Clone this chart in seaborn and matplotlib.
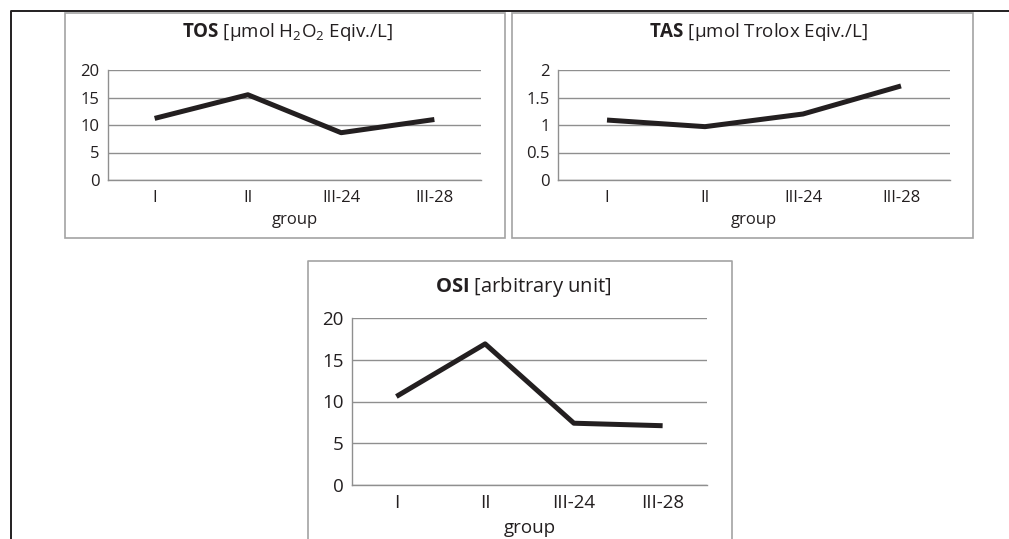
import numpy as np
import pandas as pd
import seaborn as sns
import matplotlib.pyplot as plt
from matplotlib.lines import Line2D
from matplotlib.patches import Rectangle
from matplotlib.ticker import FuncFormatter, FixedLocator

groups = ["I", "II", "III-24", "III-28"]
tos = [11.2, 15.5, 8.6, 11.0]
tas = [1.09, 0.97, 1.20, 1.71]
osi = [10.6, 16.9, 7.4, 7.1]

sns.set_style("white")
plt.rcParams['font.family'] = ['Open Sans', 'DejaVu Sans']
plt.rcParams['mathtext.fontset'] = 'custom'
plt.rcParams['mathtext.rm'] = 'Open Sans'
plt.rcParams['mathtext.bf'] = 'Open Sans:bold'

W, H = 1009, 539
ink = '#231f20'
grid = '#8f8f8f'
frame = '#a3a3a3'

fig = plt.figure(figsize=(W / 100, H / 100), dpi=100)
fig.patch.set_facecolor('white')


def box(x0, y0, x1, y1):
    # pixel coords, y down from top
    return [x0 / W, 1 - y1 / H, (x1 - x0) / W, (y1 - y0) / H]


def px(x, y):
    return x / W, 1 - y / H


# outer frame lines
xs, ys = zip(*[px(11, 539), px(11, 11), px(1009, 11)])
fig.add_artist(Line2D(xs, ys, color=ink, lw=1.4, transform=fig.transFigure))

# panel boxes
for (x0, y0, x1, y1) in [(65, 13, 505, 238), (512, 13, 973, 238)]:
    b = box(x0, y0, x1, y1)
    fig.add_artist(Rectangle((b[0], b[1]), b[2], b[3], fill=False, ec=frame,
                             lw=1.2, transform=fig.transFigure))
xs, ys = zip(*[px(308, 545), px(308, 261), px(732, 261), px(732, 545)])
fig.add_artist(Line2D(xs, ys, color=frame, lw=1.2, transform=fig.transFigure))


def panel(rect, vals, ymax, step, fs, tfs, title, tx, ty, boundary_ticks,
          xpad, lpad):
    ax = fig.add_axes(rect)
    df = pd.DataFrame({"group": groups, "value": vals})
    sns.lineplot(data=df, x="group", y="value", sort=False, color=ink,
                 lw=3.6, ax=ax, solid_capstyle='butt')
    ax.set_xlim(-0.5, 3.5)
    ax.set_ylim(0, ymax)
    ax.set_yticks(np.arange(0, ymax + step / 2, step))
    ax.yaxis.set_major_formatter(FuncFormatter(lambda v, p: f"{v:g}"))
    ax.yaxis.grid(True, color=grid, lw=1.0)
    ax.set_axisbelow(True)
    for s in ['top', 'right']:
        ax.spines[s].set_visible(False)
    for s in ['left', 'bottom']:
        ax.spines[s].set_color(grid)
        ax.spines[s].set_linewidth(1.0)
    ax.tick_params(axis='y', length=3, width=1.0, color=grid, pad=3,
                   labelsize=fs, labelcolor=ink)
    ax.tick_params(axis='x', which='major', length=0, pad=xpad,
                   labelsize=fs, labelcolor=ink)
    if boundary_ticks:
        ax.xaxis.set_minor_locator(FixedLocator([-0.5, 0.5, 1.5, 2.5, 3.5]))
        ax.tick_params(axis='x', which='minor', length=3.5, width=1.0,
                       color=grid)
    ax.set_xlabel("group", fontsize=fs, color=ink, labelpad=lpad)
    ax.set_ylabel("")
    fig.text(tx / W, 1 - ty / H, title, fontsize=tfs, color=ink,
             ha='center', va='center')
    return ax


panel(box(108, 70, 481, 180), tos, 20, 5, 12, 13.5,
      r"$\mathbf{TOS}$ [µmol H$_\mathregular{2}$O$_\mathregular{2}$ Eqiv./L]",
      287, 32, False, 7.5, 4)
panel(box(558, 70, 950, 180), tas, 2, 0.5, 12, 13.5,
      r"$\mathbf{TAS}$ [µmol Trolox Eqiv./L]", 759, 32, True, 7.5, 4)
panel(box(352, 318, 707, 485), osi, 20, 5, 13.5, 14.5,
      r"$\mathbf{OSI}$ [arbitrary unit]", 523, 287, True, 6.5, 5)

plt.savefig("out.png", dpi=100)
